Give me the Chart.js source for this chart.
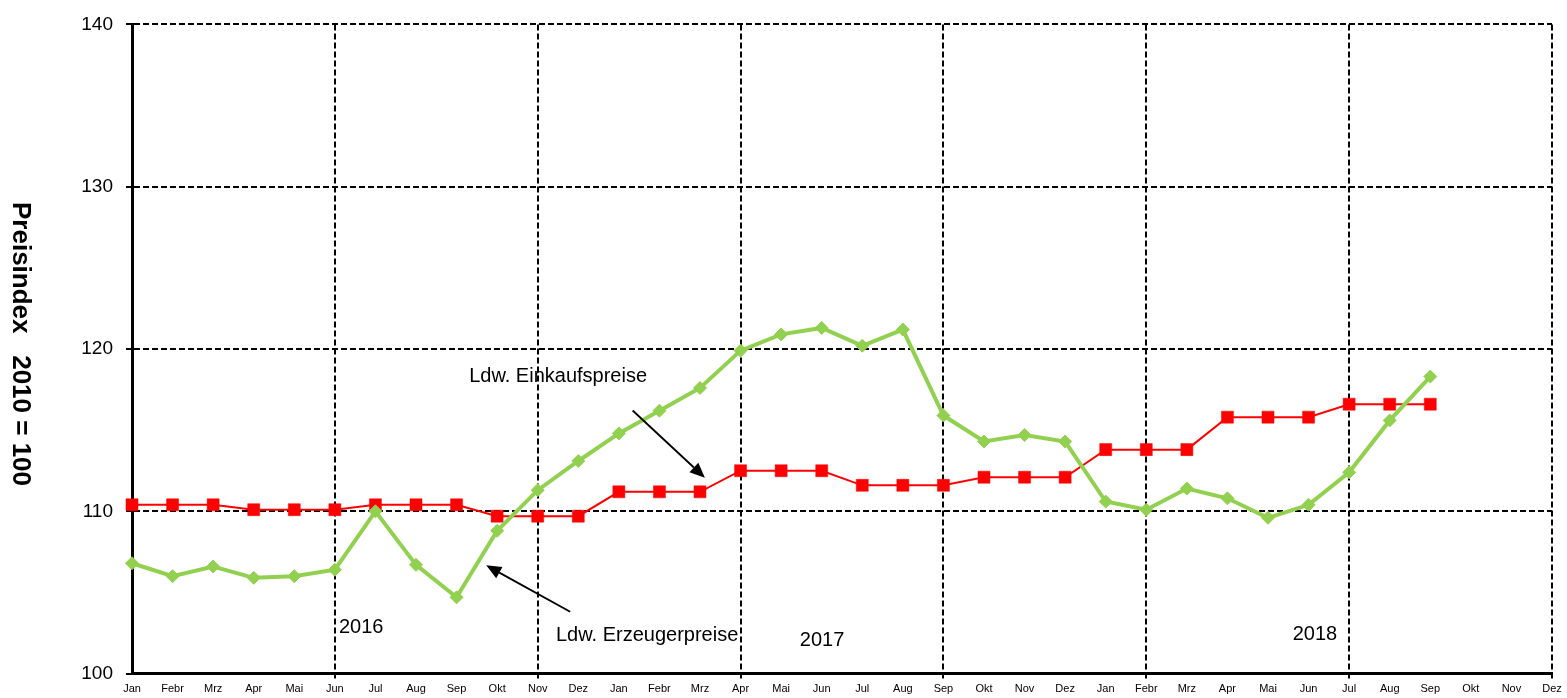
<!DOCTYPE html>
<html lang="de">
<head>
<meta charset="utf-8">
<title>Preisindex Landwirtschaft 2016–2018</title>
<script src="https://cdn.jsdelivr.net/npm/chart.js@4.4.1/dist/chart.umd.min.js"></script>
<style>
  html, body { margin: 0; padding: 0; background: #ffffff; }
  #wrap { width: 1567px; height: 698px; }
</style>
</head>
<body>
<div id="wrap"><canvas id="chart" width="1567" height="698"></canvas></div>
<script>
// Monatsbeschriftung der x-Achse (Jan 2016 bis Dez 2018)
const months = ['Jan', 'Febr', 'Mrz', 'Apr', 'Mai', 'Jun', 'Jul', 'Aug', 'Sep', 'Okt', 'Nov', 'Dez'];
const monthLabels = [...months, ...months, ...months];

// Index-Werte (2010 = 100)
const erzeugerpreise2016 = [106.8, 106.0, 106.6, 105.9, 106.0, 106.4, 110.0, 106.7, 104.7, 108.8, 111.3, 113.1];
const erzeugerpreise2017 = [114.8, 116.2, 117.6, 119.9, 120.9, 121.3, 120.2, 121.2, 115.9, 114.3, 114.7, 114.3];
const erzeugerpreise2018 = [110.6, 110.1, 111.4, 110.8, 109.6, 110.4, 112.4, 115.6, 118.3, null, null, null];

const einkaufspreise2016 = [110.4, 110.4, 110.4, 110.1, 110.1, 110.1, 110.4, 110.4, 110.4, 109.7, 109.7, 109.7];
const einkaufspreise2017 = [111.2, 111.2, 111.2, 112.5, 112.5, 112.5, 111.6, 111.6, 111.6, 112.1, 112.1, 112.1];
const einkaufspreise2018 = [113.8, 113.8, 113.8, 115.8, 115.8, 115.8, 116.6, 116.6, 116.6, null, null, null];

const erzeugerpreise = [...erzeugerpreise2016, ...erzeugerpreise2017, ...erzeugerpreise2018];
const einkaufspreise = [...einkaufspreise2016, ...einkaufspreise2017, ...einkaufspreise2018];

// y-Achse
const yMin = 100;
const yMax = 140;
const yStep = 10;
const yTitle = 'Preisindex   2010 = 100';

// Beschriftungen im Diagramm (x = Monatsindex, y = Indexwert, Grundlinie)
const chartNotes = [
  { text: 'Ldw. Einkaufspreise', x: 8.31, y: 117.98 },
  { text: 'Ldw. Erzeugerpreise', x: 10.45, y: 101.98 },
  { text: '2016', x: 5.10, y: 102.51 },
  { text: '2017', x: 16.46, y: 101.73 },
  { text: '2018', x: 28.61, y: 102.04 }
];
// Pfeile von der Beschriftung zur jeweiligen Linie
const noteArrows = [
  { from: [12.34, 116.21], to: [14.12, 112.07] },
  { from: [10.80, 103.81], to: [8.73, 106.67] }
];

const FONT = '"Liberation Sans", Arial, Helvetica, sans-serif';

const notesPlugin = {
  id: 'notes',
  afterDraw(chart) {
    const { ctx, scales: { x, y } } = chart;
    const px = v => x.getPixelForValue(v);
    const py = v => y.getPixelForValue(v);
    ctx.save();
    ctx.fillStyle = '#000';
    ctx.font = '20px ' + FONT;
    ctx.textAlign = 'left';
    ctx.textBaseline = 'alphabetic';
    chartNotes.forEach(n => ctx.fillText(n.text, px(n.x), py(n.y)));

    ctx.strokeStyle = '#000';
    ctx.lineWidth = 1.8;
    noteArrows.forEach(a => {
      const x1 = px(a.from[0]), y1 = py(a.from[1]);
      const x2 = px(a.to[0]), y2 = py(a.to[1]);
      const ang = Math.atan2(y2 - y1, x2 - x1);
      const headLen = 15, headHalf = 6.5;
      const bx = x2 - headLen * Math.cos(ang), by = y2 - headLen * Math.sin(ang);
      ctx.beginPath();
      ctx.moveTo(x1, y1);
      ctx.lineTo(bx, by);
      ctx.stroke();
      ctx.beginPath();
      ctx.moveTo(x2, y2);
      ctx.lineTo(bx + headHalf * Math.sin(ang), by - headHalf * Math.cos(ang));
      ctx.lineTo(bx - headHalf * Math.sin(ang), by + headHalf * Math.cos(ang));
      ctx.closePath();
      ctx.fill();
    });

    // Achsentitel, von oben nach unten gelesen
    const midY = (chart.chartArea.top + chart.chartArea.bottom) / 2;
    ctx.translate(13, midY - 5);
    ctx.rotate(Math.PI / 2);
    ctx.font = 'bold 26px ' + FONT;
    ctx.textAlign = 'center';
    ctx.textBaseline = 'alphabetic';
    ctx.fillText(yTitle, 0, 0);
    ctx.restore();
  }
};

const gridVisible = c => (c.index % 5 === 0 && c.index > 0) ? '#000000' : 'rgba(0,0,0,0)';

new Chart(document.getElementById('chart'), {
  type: 'line',
  data: {
    labels: monthLabels,
    datasets: [
      {
        label: 'Ldw. Erzeugerpreise',
        data: erzeugerpreise,
        borderColor: '#92D050',
        backgroundColor: '#92D050',
        borderWidth: 4,
        pointStyle: 'rectRot',
        pointRadius: 6.5,
        pointBorderWidth: 1,
        pointBackgroundColor: '#92D050',
        pointBorderColor: '#92D050',
        tension: 0,
        spanGaps: false
      },
      {
        label: 'Ldw. Einkaufspreise',
        data: einkaufspreise,
        borderColor: '#FF0000',
        backgroundColor: '#FF0000',
        borderWidth: 2,
        pointStyle: 'rect',
        pointRadius: 8.5,
        pointBorderWidth: 0.5,
        pointBackgroundColor: '#FF0000',
        pointBorderColor: '#FF0000',
        tension: 0,
        spanGaps: false
      }
    ]
  },
  options: {
    responsive: false,
    animation: false,
    devicePixelRatio: 1,
    layout: { padding: { top: 21, right: 15, bottom: 0, left: 0 } },
    plugins: {
      legend: { display: false },
      tooltip: { enabled: false },
      title: { display: false }
    },
    scales: {
      x: {
        type: 'category',
        offset: false,
        afterFit(scale) { scale.height = 23; },
        grid: {
          color: gridVisible,
          tickColor: gridVisible,
          lineWidth: 2,
          tickWidth: 2,
          tickLength: 5,
          drawTicks: true
        },
        border: { display: true, color: '#000000', width: 3, dash: [6, 3] },
        ticks: {
          autoSkip: false,
          maxRotation: 0,
          minRotation: 0,
          padding: 4,
          color: '#000000',
          font: { family: FONT, size: 11 }
        }
      },
      y: {
        min: yMin,
        max: yMax,
        afterFit(scale) { scale.width = 132; },
        grid: {
          color: '#000000',
          tickColor: '#000000',
          lineWidth: 2,
          tickWidth: 2,
          tickLength: 6
        },
        border: { display: true, color: '#000000', width: 3, dash: [6, 3] },
        ticks: {
          stepSize: yStep,
          padding: 13,
          color: '#000000',
          font: { family: FONT, size: 19 }
        }
      }
    }
  },
  plugins: [notesPlugin]
});
</script>
</body>
</html>
